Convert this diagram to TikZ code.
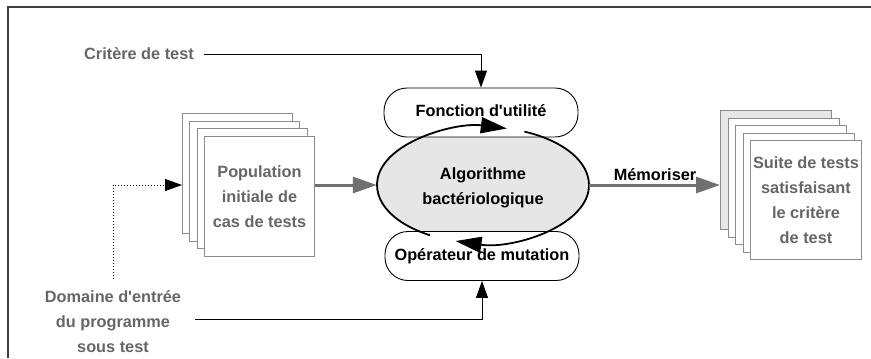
\documentclass[tikz,border=0pt]{standalone}
\usepackage{fontspec}
\setmainfont[Ligatures=TeXOff]{Liberation Sans}
\usetikzlibrary{arrows.meta,shapes.geometric}
\definecolor{txtgray}{HTML}{666666}
\definecolor{arrgray}{HTML}{707070}
\definecolor{pagegray}{HTML}{8C8C8C}
\definecolor{fillgray}{HTML}{E6E6E6}
\definecolor{framegray}{HTML}{404040}
\begin{document}
\begin{tikzpicture}[x=1bp,y=-1bp,
  lbl/.style={font=\fontsize{16.3bp}{25bp}\selectfont\bfseries, align=center, inner sep=2bp},
  graylbl/.style={lbl, text=txtgray},
  page/.style={draw=pagegray, line width=1bp, fill=white, minimum width=110bp, minimum height=120bp, inner sep=0pt},
  pill/.style={lbl, draw=black, line width=0.9bp, fill=white, rounded corners=23bp, minimum width=194bp, minimum height=49bp},
  thinarrow/.style={line width=0.9bp, -{Triangle[length=17bp,width=12bp]}},
  dotarrow/.style={line width=1bp, dotted, -{Triangle[length=17bp,width=12bp]}},
  grayarrow/.style={draw=arrgray, line width=3bp, -{Triangle[length=24bp,width=16bp]}},
  arcarrow/.style={line width=1.8bp, -{Triangle[length=26bp,width=16bp]}}
]
\useasboundingbox (0,0) rectangle (871,358);
% frame
\draw[framegray, line width=1.4bp] (8,358) -- (8,7) -- (871,7);

% central ellipse
\node[ellipse, fill=fillgray, minimum width=212bp, minimum height=116bp, inner sep=0pt] (alg) at (483,185) {};
\coordinate (c) at (483,185);

% pills
\node[pill] (fonc) at (481,112.5) {\raisebox{4bp}{Fonction d'utilité}};
\node[pill] (oper) at (482,256) {\raisebox{-6bp}{Opérateur de mutation}};

% ellipse text
\node[lbl] (algtxt) at (483,188) {Algorithme\\bactériologique};

% circular arrows
\draw[arcarrow] ([shift={(120:106 and 58)}]c) arc[start angle=120, end angle=283, x radius=106, y radius=58];
\draw[arcarrow] ([shift={(-67:106 and 58)}]c) arc[start angle=-67, end angle=105, x radius=106, y radius=58];

% left page stack
\node[page, anchor=north west] (lp0) at (182,113) {};
\node[page, anchor=north west] (lp1) at (189.3,120.7) {};
\node[page, anchor=north west] (lp2) at (196.7,128.3) {};
\node[page, anchor=north west, graylbl, inner sep=0pt] (lp3) at (204,136) {Population\\initiale de\\cas de tests};

% right page stack
\node[page, anchor=north west, fill=fillgray, minimum width=111bp, minimum height=119bp] (rp0) at (720,110) {};
\node[page, anchor=north west, minimum width=111bp, minimum height=119bp] (rp1) at (727.5,117.5) {};
\node[page, anchor=north west, minimum width=111bp, minimum height=119bp] (rp2) at (735,125) {};
\node[page, anchor=north west, minimum width=111bp, minimum height=119bp] (rp3) at (742.5,132.5) {};
\node[page, anchor=north west, minimum width=111bp, minimum height=119bp, graylbl, inner sep=0pt] (rp4) at (750,140) {Suite de tests\\satisfaisant\\le critère\\de test};

% labels
\node[graylbl] (crit) at (139,54) {Critère de test};
\node[graylbl] (dom) at (113,322) {Domaine d'entrée\\du programme\\sous test};
\node[lbl] (mem) at (655,175) {Mémoriser};

% connectors
\draw[thinarrow] ([xshift=8bp]crit.east) -| (fonc.north);
\draw[thinarrow] ([xshift=12bp,yshift=3bp]dom.east) -| (oper.south);
\draw[dotarrow] ([yshift=10bp]dom.north) |- (alg.west -| lp0.west);
\draw[grayarrow] (alg.west -| lp3.east) -- (alg.west);
\draw[grayarrow] (alg.east) -- (alg.east -| rp0.west);
\end{tikzpicture}
\end{document}
